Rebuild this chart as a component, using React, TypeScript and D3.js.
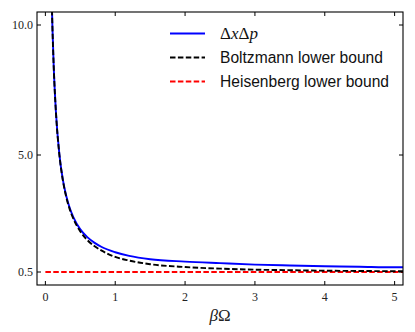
import React, { useEffect, useRef } from 'react';
import * as d3 from 'd3';

// values
const betaOmega = [0.05, 0.08, 0.1, 0.12, 0.15, 0.2, 0.25, 0.3, 0.35, 0.4, 0.5, 0.6, 0.7, 0.8, 1.0, 1.2, 1.5, 2.0, 2.5, 3.0, 3.5, 4.0, 4.5, 5.0, 5.12];
const deltaXdeltaP = [20.0, 12.5, 10.0, 8.36, 6.7, 5.03, 4.05, 3.41, 2.95, 2.61, 2.14, 1.84, 1.63, 1.47, 1.26, 1.12, 0.99, 0.9, 0.84, 0.785, 0.75, 0.72, 0.7, 0.68, 0.68];
const boltzmann = [20.0, 12.5, 10.0, 8.35, 6.69, 5.02, 4.03, 3.37, 2.9, 2.55, 2.06, 1.73, 1.5, 1.33, 1.08, 0.94, 0.8, 0.69, 0.63, 0.59, 0.57, 0.55, 0.54, 0.53, 0.53];
const heisenbergX = [0, 5.12];
const heisenberg = [0.5, 0.5];

const xTicks = [0, 1, 2, 3, 4, 5];
const yTicks = [0.5, 5.0, 10.0];

const legendItems = [
  { label: 'ΔxΔp', color: '#0000ff', dash: null, math: true },
  { label: 'Boltzmann lower bound', color: '#000000', dash: '5.5,2.4', math: false },
  { label: 'Heisenberg lower bound', color: '#ff0000', dash: '5.5,2.4', math: false }
];

const W = 415;
const H = 332;
const margin = { left: 37, right: 12, top: 12, bottom: 47 };

export default function App() {
  const ref = useRef<SVGSVGElement>(null);

  useEffect(() => {
    const svg = d3.select(ref.current);
    svg.selectAll('*').remove();

    const x = d3.scaleLinear().domain([-0.12, 5.12]).range([margin.left, W - margin.right]);
    const y = d3.scaleLinear().domain([0, 10.5]).range([H - margin.bottom, margin.top]);

    svg.append('defs')
      .append('clipPath')
      .attr('id', 'plot-clip')
      .append('rect')
      .attr('x', margin.left)
      .attr('y', margin.top)
      .attr('width', W - margin.left - margin.right)
      .attr('height', H - margin.top - margin.bottom);

    const line = d3.line<[number, number]>()
      .x(d => x(d[0]))
      .y(d => y(d[1]))
      .curve(d3.curveMonotoneX);

    const plot = svg.append('g').attr('clip-path', 'url(#plot-clip)');

    const series = [
      { xs: heisenbergX, ys: heisenberg, color: '#ff0000', dash: '5.5,2.4' },
      { xs: betaOmega, ys: deltaXdeltaP, color: '#0000ff', dash: null },
      { xs: betaOmega, ys: boltzmann, color: '#000000', dash: '5.5,2.4' }
    ];

    series.forEach(s => {
      plot.append('path')
        .attr('d', line(s.xs.map((v, i) => [v, s.ys[i]] as [number, number])))
        .attr('fill', 'none')
        .attr('stroke', s.color)
        .attr('stroke-width', 1.9)
        .attr('stroke-dasharray', s.dash);
    });

    // frame
    svg.append('rect')
      .attr('x', margin.left)
      .attr('y', margin.top)
      .attr('width', W - margin.left - margin.right)
      .attr('height', H - margin.top - margin.bottom)
      .attr('fill', 'none')
      .attr('stroke', '#000')
      .attr('stroke-width', 1.1);

    const tickLen = 4;
    const font = '"Liberation Serif", "DejaVu Serif", serif';

    xTicks.forEach(t => {
      const px = x(t);
      svg.append('line')
        .attr('x1', px).attr('x2', px)
        .attr('y1', H - margin.bottom).attr('y2', H - margin.bottom - tickLen)
        .attr('stroke', '#000');
      svg.append('line')
        .attr('x1', px).attr('x2', px)
        .attr('y1', margin.top).attr('y2', margin.top + tickLen)
        .attr('stroke', '#000');
      svg.append('text')
        .attr('x', px)
        .attr('y', H - margin.bottom + 16)
        .attr('text-anchor', 'middle')
        .attr('font-family', font)
        .attr('font-size', 12)
        .attr('fill', '#222')
        .text(String(t));
    });

    yTicks.forEach(t => {
      const py = y(t);
      svg.append('line')
        .attr('x1', margin.left).attr('x2', margin.left + tickLen)
        .attr('y1', py).attr('y2', py)
        .attr('stroke', '#000');
      svg.append('line')
        .attr('x1', W - margin.right).attr('x2', W - margin.right - tickLen)
        .attr('y1', py).attr('y2', py)
        .attr('stroke', '#000');
      svg.append('text')
        .attr('x', margin.left - 4)
        .attr('y', py + 4)
        .attr('text-anchor', 'end')
        .attr('font-family', font)
        .attr('font-size', 12)
        .attr('fill', '#222')
        .text(t.toFixed(1));
    });

    // x label
    const xl = svg.append('text')
      .attr('x', (margin.left + W - margin.right) / 2)
      .attr('y', H - 11)
      .attr('text-anchor', 'middle')
      .attr('font-family', font)
      .attr('font-size', 17)
      .attr('fill', '#222');
    xl.append('tspan').attr('font-style', 'italic').text('β');
    xl.append('tspan').text('Ω');

    // legend
    const legend = svg.append('g');
    legendItems.forEach((item, i) => {
      const ly = 33.5 + i * 24;
      legend.append('line')
        .attr('x1', 170).attr('x2', 205)
        .attr('y1', ly).attr('y2', ly)
        .attr('stroke', item.color)
        .attr('stroke-width', 1.9)
        .attr('stroke-dasharray', item.dash);
      const txt = legend.append('text')
        .attr('x', 220)
        .attr('y', ly + 5.5)
        .attr('font-size', 15.6)
        .attr('fill', '#111');
      if (item.math) {
        txt.attr('font-family', font).attr('font-size', 17);
        txt.append('tspan').text('Δ');
        txt.append('tspan').attr('font-style', 'italic').text('x');
        txt.append('tspan').text('Δ');
        txt.append('tspan').attr('font-style', 'italic').text('p');
      } else {
        txt.attr('font-family', '"Liberation Sans", Arial, sans-serif').text(item.label);
      }
    });
  }, []);

  return (
    <svg
      ref={ref}
      width={W}
      height={H}
      style={{ position: 'absolute', left: 0, top: 0, background: '#fff' }}
    />
  );
}
